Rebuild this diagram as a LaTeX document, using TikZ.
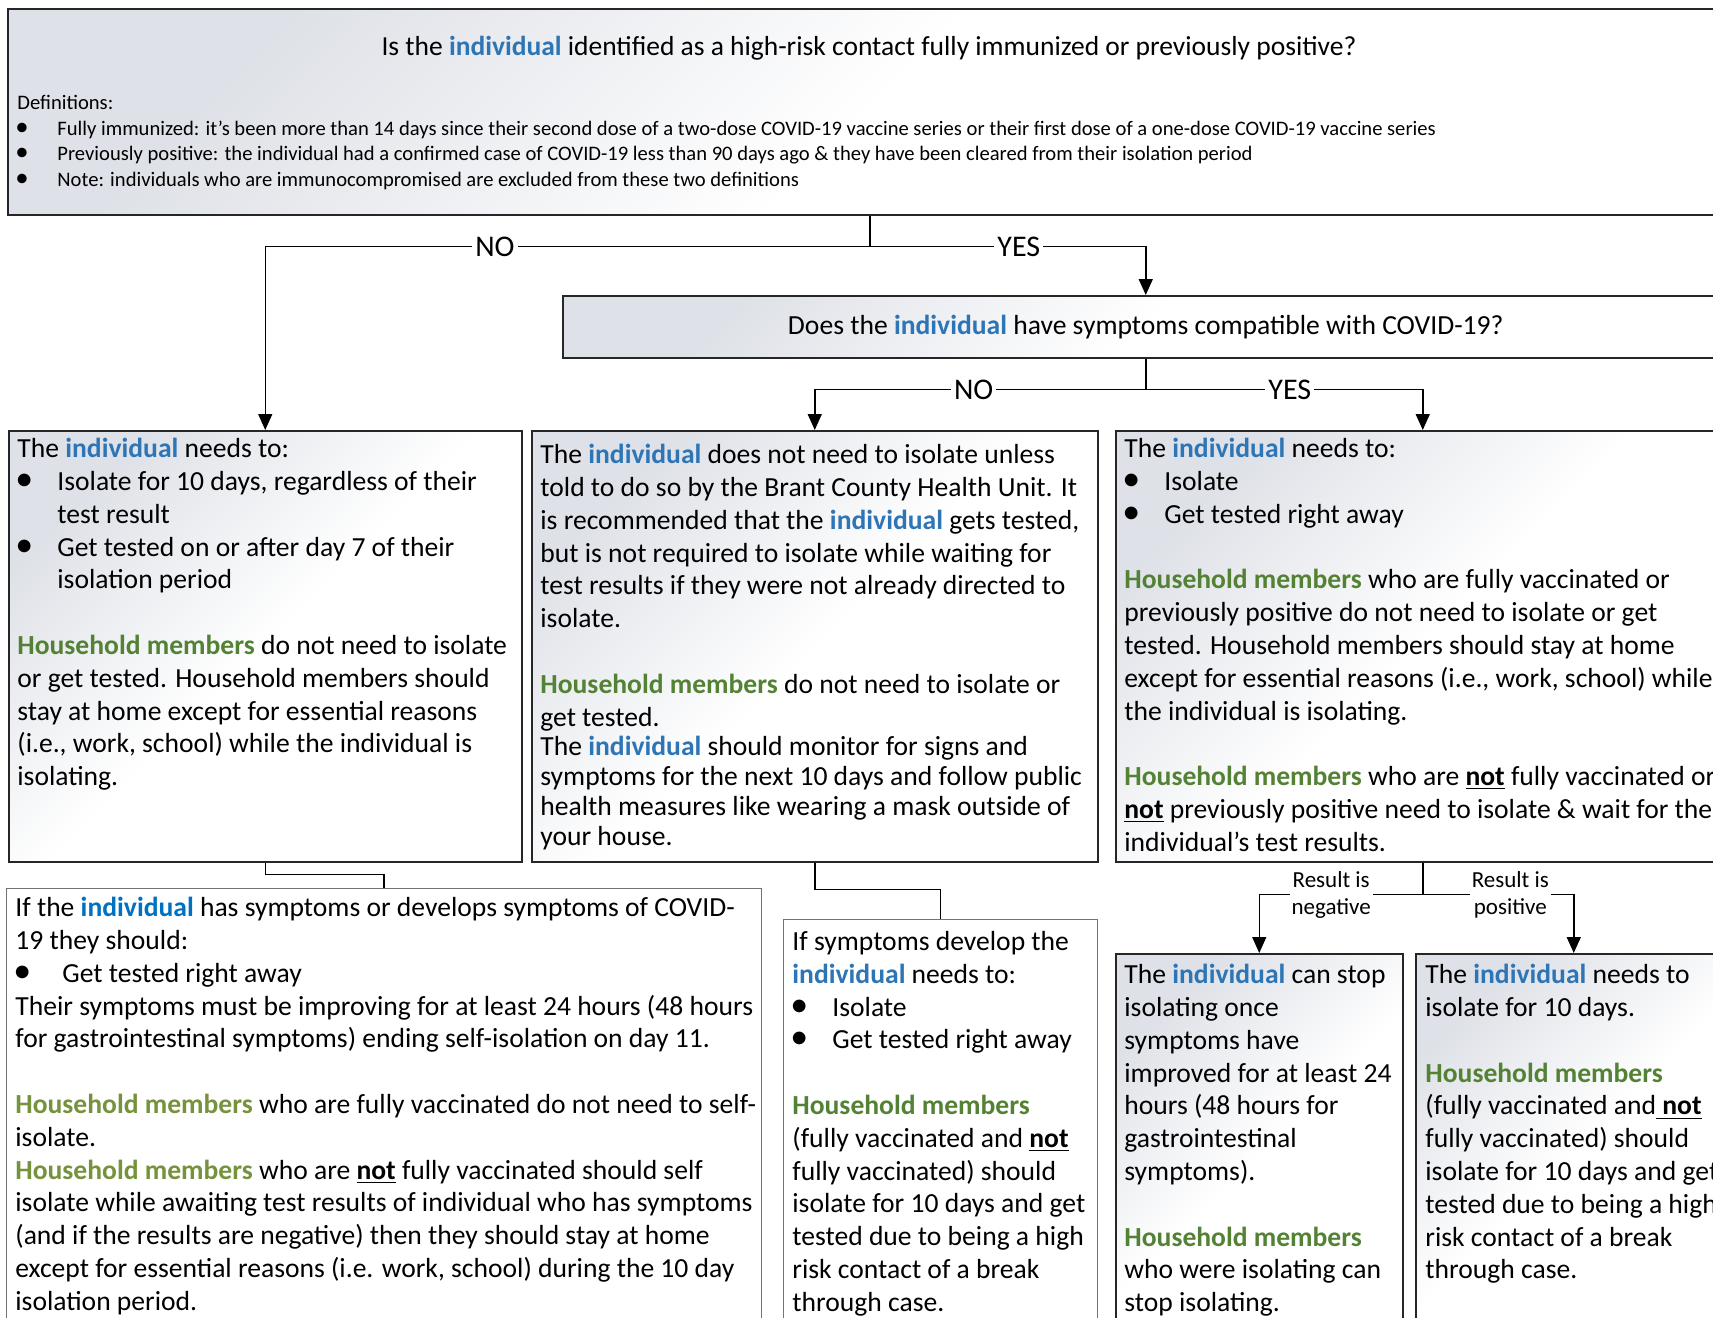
\documentclass[tikz,border=0pt]{standalone}
\usepackage{fontspec}
\setmainfont{Carlito}
\usetikzlibrary{arrows.meta}
\definecolor{indblue}{RGB}{46,117,182}
\definecolor{hmgreen}{RGB}{84,130,53}
\definecolor{dblue}{RGB}{0,112,192}
\definecolor{dgreen}{RGB}{118,146,60}
\definecolor{boxgray}{RGB}{222,225,231}
\newcommand{\ivd}[1][indblue]{\textcolor{#1}{\textbf{individual}}}
\newcommand{\hm}[1][hmgreen]{\textcolor{#1}{\textbf{Household members}}}
\newcommand{\nt}{\underline{\textbf{not}}}
\newcommand{\bl}[1][20pt]{\makebox[#1][l]{\hspace{-1pt}\scalebox{1.3}{\textbullet}}}
\newcommand{\sk}[1][20pt]{\hspace*{#1}}
\begin{document}
\begin{tikzpicture}[x=0.5pt,y=-0.5pt,
  frame/.style={draw=black!85,line width=0.75pt,anchor=north west,inner sep=0pt,
    top color=white,bottom color=boxgray,middle color=white,shading angle=225},
  plain/.style={draw=black!55,line width=0.6pt,anchor=north west,inner sep=0pt,fill=white},
  txt/.style={anchor=north west,align=left,inner sep=0pt,font=\fontsize{13.8pt}{16.4pt}\selectfont},
  lbl/.style={fill=white,inner sep=1.5pt,font=\fontsize{15pt}{17pt}\selectfont},
  arr/.style={line width=0.75pt,-{Triangle[length=8pt,width=7pt]}},
  ln/.style={line width=0.75pt}]
\path[use as bounding box,fill=white] (0,0) rectangle (1713,1317);
\clip (0,0) rectangle (1713,1317);
\node[frame,minimum width=862pt,minimum height=103pt] (q1) at (7,8) {};
\node[font=\fontsize{13.75pt}{16pt}\selectfont] (q1t) at (869,48) {Is the \ivd{} identified as a high-risk contact fully immunized or previously positive?};
\node[txt,font=\fontsize{10.3pt}{12.75pt}\selectfont] (q1d) at (17,95) {Definitions:\\
\bl Fully immunized: it’s been more than 14 days since their second dose of a two-dose COVID-19 vaccine series or their first dose of a one-dose COVID-19 vaccine series\\
\bl Previously positive: the individual had a confirmed case of COVID-19 less than 90 days ago \& they have been cleared from their isolation period\\
\bl Note: individuals who are immunocompromised are excluded from these two definitions};
\node[frame,minimum width=583pt,minimum height=31pt,font=\fontsize{13.8pt}{16.4pt}\selectfont] (q2) at (562,295) {Does the \ivd{} have symptoms compatible with COVID-19?};
\node[frame,minimum width=256.5pt,minimum height=215.5pt] (a) at (8,430) {};
\node[frame,minimum width=283pt,minimum height=215.5pt] (b) at (531,430) {};
\node[frame,minimum width=307pt,minimum height=215.5pt] (c) at (1115,430) {};
\node[plain,minimum width=377.5pt,minimum height=230pt] (d) at (6,888) {};
\node[plain,minimum width=157pt,minimum height=215pt] (e) at (783,919) {};
\node[frame,minimum width=143.5pt,minimum height=200pt] (f) at (1115,953) {};
\node[frame,minimum width=158pt,minimum height=200pt] (g) at (1415,953) {};
\node[txt] (atx) at (17,438) {The \ivd{} needs to:\\
\bl Isolate for 10 days, regardless of their\\
\sk test result\\
\bl Get tested on or after day 7 of their\\
\sk isolation period\\[16.4pt]
\hm{} do not need to isolate\\
or get tested. Household members should\\
stay at home except for essential reasons\\
(i.e., work, school) while the individual is\\
isolating.};
\node[txt] (btx) at (540,444) {The \ivd{} does not need to isolate unless\\
told to do so by the Brant County Health Unit. It\\
is recommended that the \ivd{} gets tested,\\
but is not required to isolate while waiting for\\
test results if they were not already directed to\\
isolate.\\[16.4pt]
\hm{} do not need to isolate or\\
get tested.\\[-1.5pt]
The \ivd{} should monitor for signs and\\[-1.5pt]
symptoms for the next 10 days and follow public\\[-1.5pt]
health measures like wearing a mask outside of\\[-1.5pt]
your house.};
\node[txt] (ctx) at (1124,438) {The \ivd{} needs to:\\
\bl Isolate\\
\bl Get tested right away\\[16.4pt]
\hm{} who are fully vaccinated or\\
previously positive do not need to isolate or get\\
tested. Household members should stay at home\\
except for essential reasons (i.e., work, school) while\\
the individual is isolating.\\[16.4pt]
\hm{} who are \nt{} fully vaccinated or\\
\nt{} previously positive need to isolate \& wait for the\\
individual’s test results.};
\node[txt] (dtx) at (15,897) {If the \ivd[dblue]{} has symptoms or develops symptoms of COVID-\\
19 they should:\\
\bl[23.5pt]Get tested right away\\
Their symptoms must be improving for at least 24 hours (48 hours\\
for gastrointestinal symptoms) ending self-isolation on day 11.\\[16.4pt]
\hm[dgreen]{} who are fully vaccinated do not need to self-\\
isolate.\\
\hm[dgreen]{} who are \nt{} fully vaccinated should self\\
isolate while awaiting test results of individual who has symptoms\\
(and if the results are negative) then they should stay at home\\
except for essential reasons (i.e. work, school) during the 10 day\\
isolation period.};
\node[txt] (etx) at (792,931) {If symptoms develop the\\
\ivd{} needs to:\\
\bl Isolate\\
\bl Get tested right away\\[16.4pt]
\hm\\
(fully vaccinated and \nt\\
fully vaccinated) should\\
isolate for 10 days and get\\
tested due to being a high\\
risk contact of a break\\
through case.};
\node[txt] (ftx) at (1124,964) {The \ivd{} can stop\\
isolating once\\
symptoms have\\
improved for at least 24\\
hours (48 hours for\\
gastrointestinal\\
symptoms).\\[16.4pt]
\hm\\
who were isolating can\\
stop isolating.};
\node[txt] (gtx) at (1425,964) {The \ivd{} needs to\\
isolate for 10 days.\\[16.4pt]
\hm\\
(fully vaccinated and\underline{\ \textbf{not}}\\
fully vaccinated) should\\
isolate for 10 days and get\\
tested due to being a high\\
risk contact of a break\\
through case.};
\draw[ln] (q1.south) -- ++(0,31) coordinate (j1);
\draw[arr] (j1) -| node[lbl,pos=.31] (no1) {NO} (a.north);
\draw[arr] (j1) -| node[lbl,pos=.27] (yes1) {YES} (q2.north);
\draw[ln] (q2.south) -- ++(0,31) coordinate (j2);
\draw[arr] (j2) -| node[lbl,pos=.26] (no2) {NO} (b.north);
\draw[arr] (j2) -| node[lbl,pos=.26] (yes2) {YES} (c.north);
\draw[ln] (a.south) -- ++(0,12) -| (d.north);
\draw[ln] (b.south) -- ++(0,27) -| (e.north);
\draw[ln] (c.south) -- ++(0,32) coordinate (j3);
\foreach \n/\p/\w in {f/.28/negative,g/.29/positive}
  \draw[arr] (j3) -| node[lbl,pos=\p,align=center,inner sep=1pt,font=\fontsize{11.5pt}{13.5pt}\selectfont] (r\n) {Result is\\\w} (\n.north);
\end{tikzpicture}
\end{document}
